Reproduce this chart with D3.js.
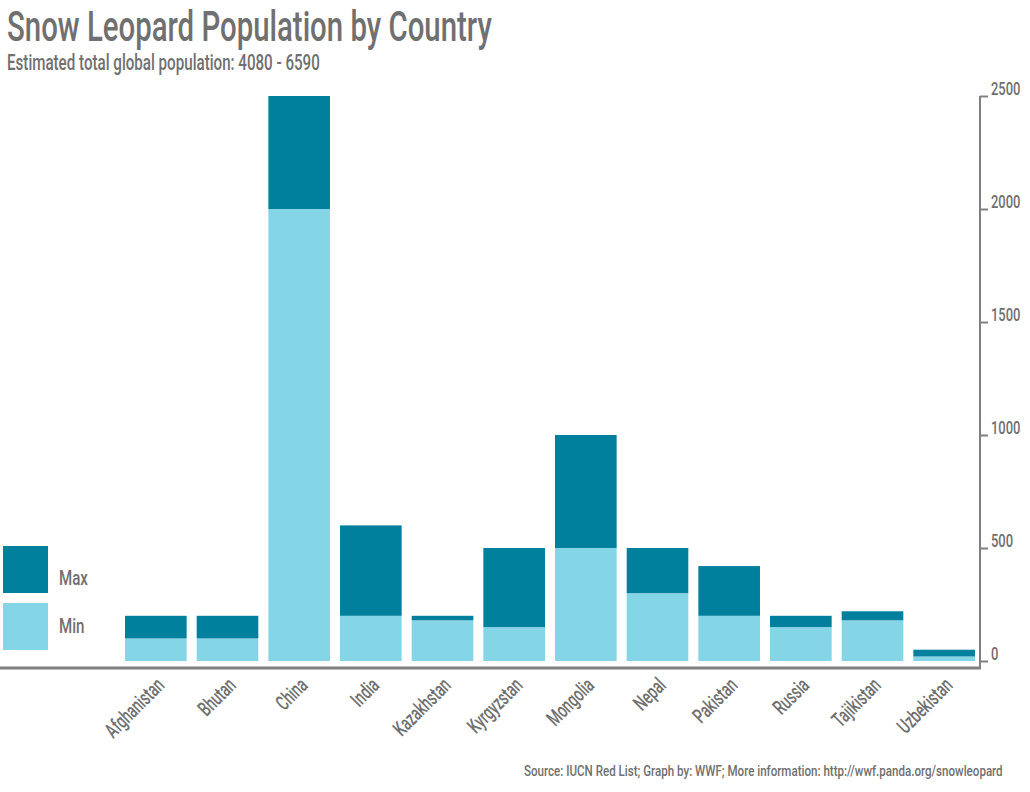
<!DOCTYPE html>
<html>
<head>
<meta charset="utf-8">
<script src="https://cdn.jsdelivr.net/npm/d3@7"></script>
<style>
  body { margin: 0; background: #fff; }
  svg text { font-family: Roboto, "DejaVu Sans", sans-serif; font-weight: 500; fill: #707070; }
</style>
</head>
<body>
<div id="viz"></div>
<script>
// data
var countries = ["Afghanistan", "Bhutan", "China", "India", "Kazakhstan", "Kyrgyzstan",
  "Mongolia", "Nepal", "Pakistan", "Russia", "Tajikistan", "Uzbekistan"];
var minValues = [100, 100, 2000, 200, 180, 150, 500, 300, 200, 150, 180, 20];
var maxValues = [200, 200, 2500, 600, 200, 500, 1000, 500, 420, 200, 220, 50];
var yTicks = [0, 500, 1000, 1500, 2000, 2500];

var width = 1030, height = 792;
var darkColor = "#00809c", lightColor = "#84d5e6";
var squeeze = 0.72; // condensed look for labels

var svg = d3.select("#viz").append("svg")
  .attr("width", width)
  .attr("height", height);

// scales
var x = d3.scaleBand().domain(countries).range([120, 980]).paddingInner(0.14).paddingOuter(0.07);
var y = d3.scaleLinear().domain([0, 2500]).range([661, 96]);

// squeeze a text horizontally so it spans a given width
function fitText(sel, px, py, target) {
  var len = sel.node().getComputedTextLength();
  sel.attr("transform", "translate(" + px + "," + py + ") scale(" + (target / len) + ",1)");
}

// title
var title = svg.append("text").style("font-size", "43px")
  .text("Snow Leopard Population by Country");
fitText(title, 7, 41, 485);
var sub = svg.append("text").style("font-size", "22px")
  .text("Estimated total global population: 4080 - 6590");
fitText(sub, 7, 70, 313);

// bars: min part then max part on top
var g = svg.append("g");
g.selectAll(".bar-min").data(countries).enter().append("rect")
  .attr("class", "bar-min")
  .attr("x", function (d) { return x(d); })
  .attr("width", x.bandwidth())
  .attr("y", function (d, i) { return y(minValues[i]); })
  .attr("height", function (d, i) { return y(0) - y(minValues[i]); })
  .attr("fill", lightColor);
g.selectAll(".bar-max").data(countries).enter().append("rect")
  .attr("class", "bar-max")
  .attr("x", function (d) { return x(d); })
  .attr("width", x.bandwidth())
  .attr("y", function (d, i) { return y(maxValues[i]); })
  .attr("height", function (d, i) { return y(minValues[i]) - y(maxValues[i]); })
  .attr("fill", darkColor);

// right axis
var axis = svg.append("g").attr("transform", "translate(980,0)")
  .call(d3.axisRight(y).tickValues(yTicks).tickSize(8).tickPadding(3).tickFormat(d3.format("d")));
axis.select(".domain").remove();
axis.selectAll("line").attr("stroke", "#808080").attr("stroke-width", 2);
axis.selectAll("text")
  .attr("x", 11 / squeeze).attr("dy", "-0.08em")
  .attr("transform", "scale(" + squeeze + ",1)")
  .style("font-size", "18px");

svg.append("line").attr("x1", 980).attr("x2", 980).attr("y1", y(2500)).attr("y2", 668)
  .attr("stroke", "#808080").attr("stroke-width", 2);
svg.append("line").attr("x1", 0).attr("x2", 981).attr("y1", 668).attr("y2", 668)
  .attr("stroke", "#808080").attr("stroke-width", 3);

// x labels
svg.selectAll(".xlab").data(countries).enter().append("text")
  .attr("class", "xlab")
  .attr("transform", function (d) {
    return "translate(" + (x(d) + x.bandwidth() / 2 - 1) + ",676) rotate(-45) scale(0.65,1)";
  })
  .attr("text-anchor", "end")
  .attr("dy", "0.72em")
  .style("font-size", "21px")
  .text(function (d) { return d; });

// legend
var legend = [["Max", darkColor], ["Min", lightColor]];
svg.selectAll(".leg").data(legend).enter().append("rect")
  .attr("x", 3).attr("y", function (d, i) { return 546 + i * 57; })
  .attr("width", 45).attr("height", 47)
  .attr("fill", function (d) { return d[1]; });
svg.selectAll(".legt").data(legend).enter().append("text")
  .attr("transform", function (d, i) { return "translate(59," + (585 + i * 48) + ") scale(" + squeeze + ",1)"; })
  .style("font-size", "21px")
  .text(function (d) { return d[0]; });

// source
var src = svg.append("text").style("font-size", "15px")
  .text("Source: IUCN Red List; Graph by: WWF; More information: http://wwf.panda.org/snowleopard");
fitText(src, 524, 776, 479);
</script>
</body>
</html>
